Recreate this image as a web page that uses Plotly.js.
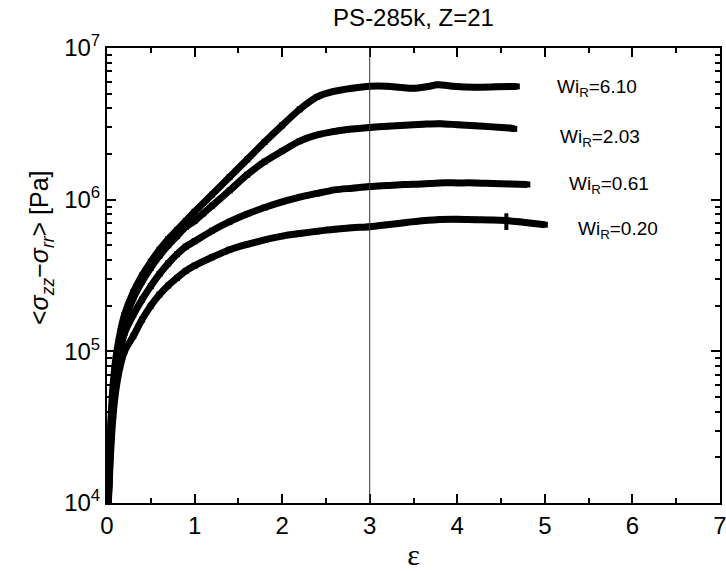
<!DOCTYPE html>
<html>
<head>
<meta charset="utf-8">
<script src="https://cdn.plot.ly/plotly-3.0.1.min.js"></script>
<style>html,body{margin:0;padding:0;background:#fff;}#chart{width:726px;height:571px;}</style>
</head>
<body>
<div id="chart"></div>
<script>
// Hencky strain values and stress difference <σzz−σrr> [Pa]
const seriesNames = ["Wi_R=6.10", "Wi_R=2.03", "Wi_R=0.61", "Wi_R=0.20"];
const seriesLabels = ["Wi<sub>R</sub>=6.10", "Wi<sub>R</sub>=2.03", "Wi<sub>R</sub>=0.61", "Wi<sub>R</sub>=0.20"];

const strainWi610 = [0.015,0.025,0.035,0.05,0.07,0.1,0.15,0.2,0.3,0.4,0.5,0.6,0.7,0.8,0.9,1.0,1.2,1.4,1.6,1.8,2.0,2.2,2.4,2.6,2.8,3.0,3.2,3.35,3.5,3.65,3.78,3.95,4.2,4.45,4.68];
const stressWi610 = [1.12e4,1.78e4,2.63e4,3.98e4,6.03e4,8.91e4,1.32e5,1.74e5,2.45e5,3.16e5,3.89e5,4.68e5,5.50e5,6.31e5,7.24e5,8.32e5,1.08e6,1.41e6,1.84e6,2.40e6,3.09e6,3.94e6,4.76e6,5.19e6,5.43e6,5.60e6,5.60e6,5.50e6,5.42e6,5.55e6,5.72e6,5.60e6,5.52e6,5.55e6,5.58e6];

const strainWi203 = [0.015,0.025,0.035,0.05,0.07,0.1,0.15,0.2,0.3,0.4,0.5,0.6,0.7,0.8,0.9,1.0,1.1,1.2,1.4,1.6,1.8,2.0,2.2,2.4,2.6,2.8,3.0,3.2,3.4,3.6,3.8,4.0,4.2,4.4,4.6,4.65];
const stressWi203 = [1.07e4,1.58e4,2.34e4,3.55e4,5.25e4,7.94e4,1.17e5,1.58e5,2.24e5,2.88e5,3.55e5,4.27e5,5.01e5,5.75e5,6.61e5,7.24e5,8.13e5,9.12e5,1.15e6,1.46e6,1.78e6,2.09e6,2.43e6,2.67e6,2.82e6,2.92e6,2.99e6,3.05e6,3.10e6,3.14e6,3.17e6,3.12e6,3.07e6,3.02e6,2.97e6,2.93e6];

const strainWi061 = [0.015,0.025,0.035,0.05,0.07,0.1,0.15,0.2,0.3,0.4,0.5,0.6,0.7,0.8,0.9,1.0,1.2,1.4,1.6,1.8,2.0,2.2,2.4,2.6,2.8,3.0,3.2,3.4,3.6,3.8,4.0,4.2,4.4,4.6,4.8];
const stressWi061 = [1.05e4,1.51e4,2.14e4,3.16e4,4.68e4,6.92e4,1.00e5,1.32e5,1.74e5,2.19e5,2.69e5,3.24e5,3.80e5,4.37e5,4.90e5,5.31e5,6.24e5,7.16e5,8.04e5,8.87e5,9.66e5,1.04e6,1.10e6,1.16e6,1.19e6,1.22e6,1.24e6,1.26e6,1.27e6,1.29e6,1.29e6,1.29e6,1.28e6,1.27e6,1.26e6];

const strainWi020 = [0.015,0.025,0.035,0.05,0.07,0.1,0.15,0.2,0.3,0.4,0.5,0.6,0.7,0.8,0.9,1.0,1.2,1.4,1.6,1.8,2.0,2.2,2.4,2.6,2.8,3.0,3.2,3.4,3.6,3.8,4.0,4.2,4.4,4.56,4.7,4.85,5.0];
const stressWi020 = [1.0e4,1.32e4,1.82e4,2.63e4,3.80e4,5.50e4,7.94e4,1.0e5,1.26e5,1.62e5,2.0e5,2.37e5,2.72e5,3.05e5,3.39e5,3.67e5,4.17e5,4.68e5,5.07e5,5.43e5,5.75e5,5.98e5,6.19e5,6.38e5,6.53e5,6.64e5,6.84e5,7.05e5,7.25e5,7.40e5,7.42e5,7.38e5,7.35e5,7.28e5,7.16e5,7.00e5,6.84e5];

// single error bar visible on the Wi_R=0.20 curve
const errStrain = [4.56];
const errStress = [7.28e5];
const errPlus = [0.85e5];
const errMinus = [0.97e5];

const xTickVals = [0,1,2,3,4,5,6,7];
const xTickText = ["0","1","2","3","4","5","6","7"];
const xMinorVals = [0.5,1.5,2.5,3.5,4.5,5.5,6.5];
const yTickVals = [1e4,1e5,1e6,1e7];
const yTickText = ["10<sup>4</sup>","10<sup>5</sup>","10<sup>6</sup>","10<sup>7</sup>"];
const yMinorMultipliers = [2,3,4,5,6,7,8,9];
const yMinorVals = [];
yTickVals.slice(0, -1).forEach(d => yMinorMultipliers.forEach(m => yMinorVals.push(d * m)));

const referenceStrain = 3;

const FONT = "Liberation Sans, Arial, Helvetica, sans-serif";

const xs = [strainWi610, strainWi203, strainWi061, strainWi020];
const ys = [stressWi610, stressWi203, stressWi061, stressWi020];

const traces = xs.map((x, i) => ({
  type: "scatter",
  mode: "lines+markers",
  x: x,
  y: ys[i],
  name: seriesNames[i],
  line: {color: "#000", width: 7, shape: "spline", smoothing: 0.8},
  marker: {color: "#000", symbol: "square", size: 6},
  showlegend: false,
  hoverinfo: "x+y+name"
}));

traces.push({
  type: "scatter",
  mode: "markers",
  x: errStrain,
  y: errStress,
  marker: {color: "#000", size: 1, opacity: 0},
  error_y: {type: "data", symmetric: false, array: errPlus, arrayminus: errMinus, color: "#000", thickness: 4, width: 0},
  showlegend: false,
  hoverinfo: "skip"
});

// empty trace that registers the overlay axes carrying the minor ticks
traces.push({
  type: "scatter",
  x: [null],
  y: [null],
  xaxis: "x2",
  yaxis: "y2",
  showlegend: false
});

const labelPos = [
  {x: 5.6, y: 6.735},
  {x: 5.63, y: 6.405},
  {x: 5.73, y: 6.095},
  {x: 5.84, y: 5.80}
];

const annotations = seriesLabels.map((t, i) => ({
  text: t,
  x: labelPos[i].x,
  y: labelPos[i].y,
  xref: "x",
  yref: "y",
  showarrow: false,
  xanchor: "center",
  yanchor: "middle",
  font: {family: FONT, size: 19, color: "#000"}
}));

const nb = "&nbsp;".repeat(8);

const layout = {
  width: 726,
  height: 571,
  margin: {l: 107, r: 6, t: 48, b: 68, pad: 0},
  paper_bgcolor: "#fff",
  plot_bgcolor: "#fff",
  showlegend: false,
  title: {
    text: "PS-285k, Z=21",
    font: {family: FONT, size: 24, color: "#000"},
    x: 0.5,
    xref: "paper",
    xanchor: "center",
    y: 0.97,
    yref: "container",
    yanchor: "middle"
  },
  xaxis: {
    range: [0, 7],
    tickmode: "array",
    tickvals: xTickVals,
    ticktext: xTickText,
    ticks: "inside",
    ticklen: 9,
    tickwidth: 2,
    tickcolor: "#000",
    ticklabeloverflow: "allow",
    showline: true,
    linecolor: "#000",
    linewidth: 2,
    mirror: "ticks",
    showgrid: false,
    zeroline: false,
    tickfont: {family: FONT, size: 24, color: "#000"},
    title: {text: "ε", font: {family: "Liberation Serif, Times New Roman, serif", size: 30, color: "#000"}, standoff: 6}
  },
  yaxis: {
    type: "log",
    range: [4, 7],
    tickmode: "array",
    tickvals: yTickVals,
    ticktext: yTickText,
    ticks: "inside",
    ticklen: 9,
    tickwidth: 2,
    tickcolor: "#000",
    showline: true,
    linecolor: "#000",
    linewidth: 2,
    mirror: "ticks",
    showgrid: false,
    zeroline: false,
    tickfont: {family: FONT, size: 24, color: "#000"},
    title: {text: nb + "&lt;<i>σ</i><sub><i>zz</i></sub>−<i>σ</i><sub><i>rr</i></sub>&gt; [Pa]", font: {family: FONT, size: 25, color: "#000"}, standoff: 8}
  },
  xaxis2: {
    overlaying: "x",
    anchor: "y2",
    range: [0, 7],
    tickmode: "array",
    tickvals: xMinorVals,
    showticklabels: false,
    ticks: "inside",
    ticklen: 5,
    tickwidth: 2,
    tickcolor: "#000",
    mirror: "ticks",
    showgrid: false,
    zeroline: false
  },
  yaxis2: {
    overlaying: "y",
    anchor: "x2",
    type: "log",
    range: [4, 7],
    tickmode: "array",
    tickvals: yMinorVals,
    showticklabels: false,
    ticks: "inside",
    ticklen: 5,
    tickwidth: 2,
    tickcolor: "#000",
    mirror: "ticks",
    showgrid: false,
    zeroline: false
  },
  shapes: [{
    type: "line",
    xref: "x",
    yref: "paper",
    x0: referenceStrain,
    x1: referenceStrain,
    y0: 0,
    y1: 1,
    line: {color: "#333", width: 1}
  }],
  annotations: annotations
};

Plotly.newPlot("chart", traces, layout, {displayModeBar: false, staticPlot: true});
</script>
</body>
</html>
